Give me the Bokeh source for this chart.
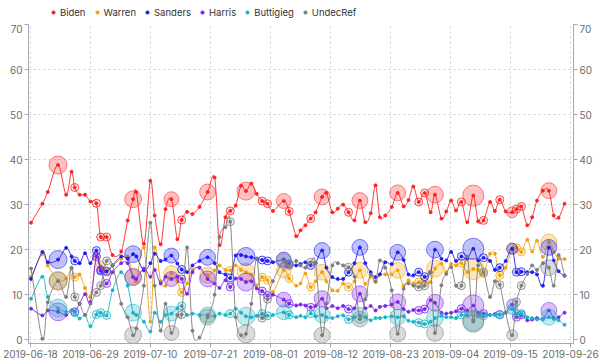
import numpy as np
from bokeh.plotting import figure
from bokeh.layouts import column
from bokeh.models import (Range1d, LinearAxis, FixedTicker, Legend, LegendItem, ColumnDataSource)
from bokeh.embed import file_html
from bokeh.resources import INLINE

# ---------------- data ----------------
x_tick_labels = ['2019-06-18', '2019-06-29', '2019-07-10', '2019-07-21', '2019-08-01',
                 '2019-08-12', '2019-08-23', '2019-09-04', '2019-09-15', '2019-09-26']

# poll day offsets from 2019-06-18
poll_day = [0.1, 2.2, 3.2, 5.1, 6.6, 7.6, 8.2, 9.1, 10.1, 11.1,
            12.2, 13.0, 14.1, 15.2, 16.8, 18.0, 19.0, 19.6, 21.0, 22.2,
            23.0, 24.1, 25.0, 26.1, 27.2, 28.0, 29.0, 30.0, 31.3, 32.8,
            34.1, 35.0, 36.1, 37.0, 38.0, 39.0, 39.9, 40.9, 41.9, 42.9,
            43.9, 44.9, 46.9, 47.9, 49.2, 50.0, 50.9, 51.9, 52.8, 54.0,
            54.8, 55.9, 56.9, 57.9, 58.9, 60.0, 61.0, 62.0, 63.0, 63.9,
            64.7, 65.7, 66.9, 68.0, 69.1, 70.0, 70.9, 71.9, 73.0, 74.1,
            74.9, 76.1, 77.0, 77.9, 78.8, 79.8, 80.9, 82.0, 82.9, 83.9,
            85.1, 86.0, 86.9, 88.0, 89.2, 90.0, 90.9, 92.0, 92.9, 93.8,
            94.9, 96.0, 96.9, 97.8, 98.9]

# poll sample size (thousands)
poll_n = [1, 1, 1, 16, 1, 1, 3, 1, 1, 1,
          3, 3, 3, 1, 1, 1, 14, 1, 1, 1,
          1, 1, 1, 11, 1, 3, 1, 1, 1, 12.5,
          1, 1, 1, 3, 1, 1, 16, 1, 1, 3,
          3, 1, 11, 3, 1, 1, 1, 3, 1, 12.5,
          1, 1, 1, 1, 3, 1, 12.5, 1, 1, 1,
          1, 1, 1, 12.5, 1, 1, 1, 3, 3, 1,
          14, 1, 1, 1, 1, 3, 1, 22, 1, 3,
          1, 1, 3, 1, 6, 3, 3, 1, 1, 1,
          1, 12.5, 1, 1, 1]

biden = [26.0, 30.2, 32.8, 38.8, 32.2, 37.3, 33.8, 32.2, 32.2, 30.7,
         30.3, 22.8, 22.8, 18.8, 19.6, 26.5, 31.2, 32.8, 21.3, 35.3,
         27.6, 21.2, 29.0, 31.2, 22.3, 26.6, 28.4, 27.9, 29.5, 32.8,
         36.0, 21.0, 27.2, 28.6, 29.8, 34.2, 33.0, 34.7, 32.4, 30.8,
         30.2, 28.6, 30.8, 28.5, 23.0, 24.3, 25.4, 26.9, 28.3, 31.7,
         32.6, 28.3, 29.1, 30.0, 28.3, 26.5, 30.9, 26.1, 28.1, 34.3,
         27.2, 27.6, 29.5, 32.6, 29.6, 31.0, 34.0, 30.6, 32.6, 28.3,
         32.2, 26.9, 28.5, 30.9, 28.7, 30.6, 26.1, 32.0, 26.3, 26.5,
         30.6, 28.6, 31.1, 28.5, 28.3, 29.0, 29.6, 25.4, 27.2, 30.9,
         33.1, 33.1, 27.6, 27.1, 30.2]

warren = [14.0, 19.0, 16.5, 13.2, 13.6, 15.8, 13.9, 14.5, 11.5, 9.5,
          18.3, 16.5, 15.0, 16.5, 18.0, 18.5, 14.0, 13.0, 20.5, 4.0,
          20.5, 13.0, 12.0, 14.8, 13.0, 10.5, 12.5, 15.5, 16.0, 14.3,
          15.4, 16.5, 15.5, 15.4, 16.5, 15.5, 15.0, 14.5, 12.1, 13.9,
          13.2, 10.6, 15.4, 13.6, 12.0, 12.5, 14.7, 11.7, 13.0, 15.0,
          13.0, 11.0, 10.9, 12.5, 11.7, 13.0, 15.4, 12.4, 14.0, 12.8,
          14.5, 14.5, 14.5, 15.4, 12.0, 13.2, 12.5, 12.8, 12.8, 12.8,
          15.8, 16.9, 15.0, 16.8, 16.5, 17.0, 15.0, 15.7, 15.5, 14.7,
          19.1, 19.1, 14.3, 16.0, 20.2, 20.4, 19.5, 22.2, 19.6, 22.0,
          18.4, 21.7, 19.5, 18.0, 17.9]

sanders = [13.5, 19.5, 17.2, 17.8, 20.4, 18.5, 17.5, 17.0, 19.2, 17.0,
           19.8, 15.3, 15.2, 16.5, 18.5, 18.0, 19.0, 18.5, 15.4, 17.0,
           19.1, 17.5, 17.8, 18.7, 16.9, 15.6, 15.0, 16.5, 17.5, 18.3,
           17.0, 15.0, 14.5, 13.7, 18.7, 18.8, 18.5, 18.3, 18.0, 17.7,
           17.5, 17.2, 17.8, 16.8, 16.5, 16.8, 17.2, 16.5, 17.0, 19.8,
           16.0, 13.9, 13.5, 13.5, 15.0, 17.0, 20.5, 17.0, 15.0, 13.9,
           14.5, 17.2, 16.8, 19.4, 17.7, 14.5, 14.3, 15.0, 14.0, 15.0,
           20.0, 18.0, 17.6, 19.5, 17.5, 18.5, 18.0, 20.2, 17.6, 18.2,
           17.5, 15.5, 16.0, 17.5, 20.2, 15.0, 15.1, 15.0, 15.0, 14.5,
           12.0, 20.5, 17.6, 15.2, 14.2]

harris = [6.9, 5.4, 6.5, 6.2, 5.5, 6.5, 6.2, 8.0, 10.1, 8.4,
          18.5, 15.5, 12.5, 15.0, 17.0, 17.0, 13.9, 13.5, 15.8, 14.0,
          15.5, 12.5, 14.0, 13.5, 14.0, 13.5, 10.2, 15.0, 16.0, 13.5,
          12.5, 11.5, 13.2, 11.7, 13.6, 13.5, 12.8, 13.0, 11.4, 10.8,
          9.8, 10.0, 8.9, 8.0, 7.6, 7.8, 7.6, 7.2, 7.5, 9.1,
          7.0, 7.5, 7.0, 7.5, 6.8, 7.0, 10.2, 7.0, 7.5, 6.5,
          7.3, 7.5, 7.8, 8.4, 6.8, 6.2, 6.6, 6.5, 6.8, 8.8,
          8.2, 6.0, 5.8, 6.0, 6.3, 6.9, 6.5, 7.6, 6.0, 5.8,
          5.5, 5.7, 5.6, 6.0, 7.8, 5.0, 5.5, 4.3, 4.5, 4.8,
          4.6, 6.5, 4.8, 5.0, 6.0]

buttigieg = [9.1, 14.0, 9.5, 7.0, 6.2, 6.5, 6.0, 4.7, 5.5, 3.0,
             5.6, 6.0, 5.4, 11.0, 15.0, 12.0, 6.0, 5.5, 4.0, 1.8,
             6.0, 4.0, 5.5, 5.8, 7.0, 7.5, 5.5, 5.8, 5.5, 5.5,
             5.2, 5.8, 5.5, 5.8, 6.9, 6.0, 5.2, 5.0, 5.3, 5.8,
             5.3, 5.5, 6.1, 5.5, 5.0, 5.3, 5.0, 5.8, 5.2, 5.5,
             5.0, 4.8, 5.2, 5.4, 4.5, 5.0, 5.4, 5.0, 4.3, 4.8,
             4.8, 5.0, 5.2, 5.0, 5.2, 4.2, 4.0, 3.8, 3.5, 4.0,
             4.8, 5.3, 5.0, 5.0, 4.8, 5.5, 5.3, 4.3, 5.2, 5.3,
             5.5, 5.5, 5.5, 6.0, 6.8, 5.8, 5.8, 5.0, 4.8, 4.5,
             4.5, 5.0, 4.6, 4.3, 3.3]

undecref = [15.8, 0.2, 8.3, 13.0, 9.5, 16.0, 9.5, 8.0, 5.5, 8.0,
            10.5, 12.0, 17.5, 16.5, 8.0, 5.0, 1.0, 2.5, 12.0, 26.0,
            12.0, 2.0, 8.0, 1.5, 5.5, 5.6, 20.5, 2.0, 0.5, 5.0,
            10.0, 22.8, 25.0, 26.2, 5.0, 1.0, 1.3, 8.0, 18.0, 4.8,
            9.0, 13.0, 17.5, 16.5, 17.5, 16.5, 16.0, 17.2, 17.0, 1.0,
            8.0, 16.5, 17.0, 16.5, 16.1, 14.0, 4.6, 9.0, 14.5, 13.0,
            17.6, 16.0, 11.0, 1.3, 11.3, 12.5, 12.0, 11.7, 12.0, 15.0,
            1.5, 12.1, 14.6, 16.1, 12.0, 12.0, 18.5, 4.0, 16.5, 15.0,
            9.5, 13.0, 12.2, 6.0, 1.0, 8.4, 12.0, 14.6, 16.5, 15.5,
            17.0, 16.0, 12.0, 18.8, 14.3]

series_names = ['Biden', 'Warren', 'Sanders', 'Harris', 'Buttigieg', 'UndecRef']
series_values = [biden, warren, sanders, harris, buttigieg, undecref]
series_colors = ['#ff1f1f', '#f0a20c', '#1c1cf5', '#7d22ee', '#18b2c6', '#7c7c7c']

# ---------------- helpers ----------------
def catmull_rom(xs, ys, n=12):
    P = np.column_stack([np.asarray(xs, float), np.asarray(ys, float)])
    P = np.vstack([2 * P[0] - P[1], P, 2 * P[-1] - P[-2]])
    t = np.linspace(0, 1, n, endpoint=False)[:, None]
    out = []
    for i in range(1, len(P) - 2):
        p0, p1, p2, p3 = P[i - 1], P[i], P[i + 1], P[i + 2]
        seg = 0.5 * (2 * p1 + (-p0 + p2) * t + (2 * p0 - 5 * p1 + 4 * p2 - p3) * t ** 2
                     + (-p0 + 3 * p1 - 3 * p2 + p3) * t ** 3)
        out.append(seg)
    out.append(P[-2][None, :])
    c = np.vstack(out)
    return c[:, 0], c[:, 1]

n_arr = np.array(poll_n, float)
big_mask = n_arr >= 5
ring_mask = (n_arr >= 2) & (n_arr < 5)
big_size = 2 * 2.25 * np.sqrt(n_arr)  # diameter in px

FONT = "Inter"
days = np.array(poll_day, float)

# ---------------- legend strip ----------------
leg_fig = figure(width=600, height=24, output_backend="svg", toolbar_location=None,
                 x_axis_type=None, y_axis_type=None, min_border=0,
                 x_range=Range1d(0, 1), y_range=Range1d(0, 1))
leg_fig.outline_line_color = None
leg_fig.grid.visible = False

# ---------------- main figure ----------------
p = figure(width=600, height=340, output_backend="svg", toolbar_location=None,
           x_range=Range1d(-0.37, 100.56), y_range=Range1d(-0.84, 70),
           min_border_left=28, min_border_right=27, min_border_top=0, min_border_bottom=21)
p.outline_line_color = None
p.background_fill_color = "white"

xticks = [round(k * 100 / 9, 1) for k in range(10)]
p.xaxis.ticker = FixedTicker(ticks=xticks)
p.xaxis.major_label_overrides = {t: lab for t, lab in zip(xticks, x_tick_labels)}
yticks = list(range(0, 71, 10))
p.yaxis.ticker = FixedTicker(ticks=yticks)

right_axis = LinearAxis(ticker=FixedTicker(ticks=yticks))
p.add_layout(right_axis, "right")

for ax in p.axis:
    ax.axis_line_color = "#a8a8a8"
    ax.major_tick_line_color = "#a8a8a8"
    ax.major_tick_out = 4
    ax.major_tick_in = 0
    ax.minor_tick_line_color = None
    ax.major_label_text_color = "#6b6b6b"
    ax.major_label_text_font = FONT
    ax.major_label_text_font_size = "10px"
    ax.major_label_standoff = 2

p.xgrid.ticker = FixedTicker(ticks=xticks)
p.ygrid.ticker = FixedTicker(ticks=yticks)
for g in (p.xgrid, p.ygrid):
    g.grid_line_color = "#cfcfcf"
    g.grid_line_dash = "2 3"
    g.grid_line_width = 1

legend_items = []
for name, vals, col in zip(series_names, series_values, series_colors):
    v = np.array(vals, float)
    cx, cy = catmull_rom(days, v)
    p.line(cx, cy, line_color=col, line_width=1, line_alpha=0.9)
    src_big = ColumnDataSource(dict(x=days[big_mask], y=v[big_mask], s=big_size[big_mask]))
    p.scatter('x', 'y', size='s', source=src_big, fill_color=col, fill_alpha=0.28,
              line_color=col, line_alpha=0.55, line_width=1)
    src_ring = ColumnDataSource(dict(x=days[ring_mask], y=v[ring_mask]))
    p.scatter('x', 'y', size=8, source=src_ring, fill_color=col, fill_alpha=0.12,
              line_color=col, line_alpha=0.8, line_width=1)
    p.scatter(days, v, size=3, fill_color=col, line_color=col, line_alpha=0.9)
    key = leg_fig.scatter(days, v, size=5, fill_color=col, line_color=col)
    key.visible = False
    legend_items.append(LegendItem(label=name, renderers=[key]))

legend = Legend(items=legend_items, orientation="horizontal", location=(21, 6),
                border_line_alpha=0, background_fill_alpha=0,
                label_text_font=FONT, label_text_font_size="9.5px", label_text_color="#333333",
                glyph_width=8, glyph_height=12, label_height=12, label_standoff=3,
                spacing=7, padding=0, margin=0)
leg_fig.add_layout(legend, "center")

layout = column(leg_fig, p, spacing=0)
open("out.html", "w").write(file_html(layout, INLINE))
